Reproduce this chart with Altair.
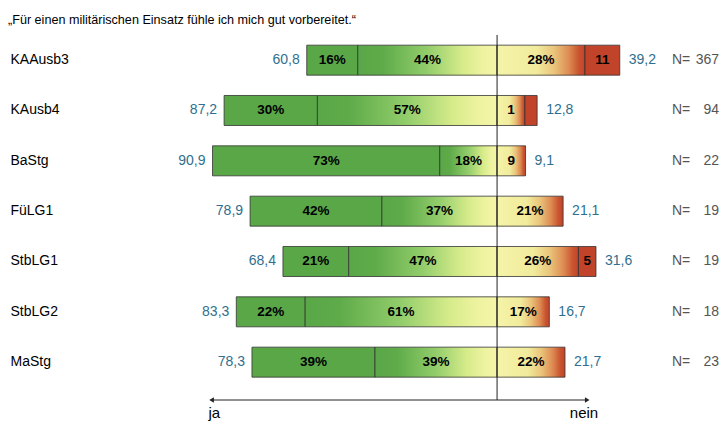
import altair as alt
import pandas as pd

# ---------------- data ----------------
groups = ["KAAusb3", "KAusb4", "BaStg", "FüLG1", "StbLG1", "StbLG2", "MaStg"]
ja_total = [60.8, 87.2, 90.9, 78.9, 68.4, 83.3, 78.3]
nein_total = [39.2, 12.8, 9.1, 21.1, 31.6, 16.7, 21.7]
ja_voll = [16.3, 29.8, 72.6, 42.1, 21.0, 22.0, 39.3]      # outer green segment
nein_eher = [28.1, 8.9, 9.1, 21.1, 26.0, 16.7, 21.7]      # first "nein" segment
n_sizes = [367, 94, 22, 19, 19, 18, 23]

ja_voll_lbl = ["16%", "30%", "73%", "42%", "21%", "22%", "39%"]
ja_eher_lbl = ["44%", "57%", "18%", "37%", "47%", "61%", "39%"]
nein_eher_lbl = ["28%", "1", "9", "21%", "26%", "17%", "22%"]
nein_voll_lbl = ["11", "", "", "", "5", "", ""]

title_text = "„Für einen militärischen Einsatz fühle ich mich gut vorbereitet.“"
arrow_ends = [-91.2, 28.8]
arrow_labels = ["ja", "nein"]

# ---------------- tables ----------------
rows = []
for i, g in enumerate(groups):
    a = -ja_total[i]
    b = -(ja_total[i] - ja_voll[i])
    rows.append(dict(group=g, seg="ja_voll", x=a, x2=b, label=ja_voll_lbl[i]))
    rows.append(dict(group=g, seg="ja_eher", x=b, x2=0.0, label=ja_eher_lbl[i]))
    rows.append(dict(group=g, seg="nein_eher", x=0.0, x2=nein_eher[i], label=nein_eher_lbl[i]))
    if nein_total[i] - nein_eher[i] > 0.05:
        rows.append(dict(group=g, seg="nein_voll", x=nein_eher[i], x2=nein_total[i], label=nein_voll_lbl[i]))
seg = pd.DataFrame(rows)
seg["mid"] = (seg["x"] + seg["x2"]) / 2

def de(v):
    return f"{v:.1f}".replace(".", ",")

summ = pd.DataFrame({
    "group": groups,
    "ja_neg": [-v for v in ja_total],
    "nein": nein_total,
    "ja_txt": [de(v) for v in ja_total],
    "nein_txt": [de(v) for v in nein_total],
    "n_txt": [str(n) for n in n_sizes],
    "n_lbl": ["N=" for _ in groups],
})

arrow = pd.DataFrame({"x": [arrow_ends[0]], "x2": [arrow_ends[1]]})
arrow_pts = pd.DataFrame({"x": arrow_ends, "shape": ["triangle-left", "triangle-right"]})
arrow_txt = pd.DataFrame({"x": [arrow_ends[0] - 1.0, arrow_ends[1] + 3.5],
                          "label": arrow_labels})
title_df = pd.DataFrame({"t": [title_text]})

# ---------------- styles ----------------
FONT = "Liberation Sans"
GREEN = "#5aa748"
RED = "#c1432a"
BLUE = "#2f6f8f"
GRAY = "#555555"
W, H = 519, 365

def grad(stops):
    return {"gradient": "linear", "x1": 0, "x2": 1, "y1": 0, "y2": 0,
            "stops": [{"offset": o, "color": c} for o, c in stops]}

green_yellow = grad([(0, "#5aa748"), (0.18, "#5fab4a"), (0.5, "#93cd6b"),
                     (0.75, "#d6eb8a"), (0.9, "#eef3a0"), (1, "#f5f5a8")])
yellow_red = grad([(0, "#f5f4a8"), (0.45, "#f1eb9c"), (0.65, "#eac47a"),
                   (0.82, "#dd8a52"), (0.93, "#c9542f"), (1, "#c1432a")])

xscale = alt.Scale(domain=[-94.9, 70.9], nice=False, zero=False)
yenc = alt.Y("group:N", sort=groups,
             scale=alt.Scale(paddingInner=0, paddingOuter=0.126, align=0),
             axis=alt.Axis(title=None, ticks=False, domain=False, labelAlign="left",
                           labelPadding=190, labelFont=FONT, labelFontSize=14,
                           labelColor="black", grid=False))

base = alt.Chart(seg)

def bars(name, fill):
    return base.transform_filter(alt.datum.seg == name).mark_bar(
        height=30, fill=fill, stroke="#333333", strokeWidth=0.8
    ).encode(x=alt.X("x:Q", scale=xscale, axis=None), x2="x2:Q", y=yenc)

bar_layers = [
    bars("ja_voll", GREEN),
    bars("ja_eher", green_yellow),
    bars("nein_eher", yellow_red),
    bars("nein_voll", RED),
]

seg_text = base.mark_text(font=FONT, fontSize=13.5, fontWeight="bold", color="black",
                          baseline="middle").encode(
    x=alt.X("mid:Q", scale=xscale, axis=None), y=yenc, text="label:N")

center = alt.Chart(pd.DataFrame({"x": [0.0]})).mark_rule(color="#222222", strokeWidth=1).encode(
    x=alt.X("x:Q", scale=xscale, axis=None))

sbase = alt.Chart(summ)
ja_lbl = sbase.mark_text(font=FONT, fontSize=14, color=BLUE, align="right", dx=-7,
                         baseline="middle").encode(
    x=alt.X("ja_neg:Q", scale=xscale, axis=None), y=yenc, text="ja_txt:N")
nein_lbl = sbase.mark_text(font=FONT, fontSize=14, color=BLUE, align="left", dx=9,
                           baseline="middle").encode(
    x=alt.X("nein:Q", scale=xscale, axis=None), y=yenc, text="nein_txt:N")
n_lbl = sbase.mark_text(font=FONT, fontSize=14, color=GRAY, align="left",
                        baseline="middle").encode(
    x=alt.value(472), y=yenc, text="n_lbl:N")
n_val = sbase.mark_text(font=FONT, fontSize=14, color=GRAY, align="right",
                        baseline="middle").encode(
    x=alt.value(519), y=yenc, text="n_txt:N")

arrow_line = alt.Chart(arrow).mark_rule(color="#222222", strokeWidth=1).encode(
    x=alt.X("x:Q", scale=xscale, axis=None), x2="x2:Q", y=alt.value(H))
arrow_heads = alt.Chart(arrow_pts).mark_point(filled=True, color="#222222", size=28, opacity=1).encode(
    x=alt.X("x:Q", scale=xscale, axis=None), y=alt.value(H),
    shape=alt.Shape("shape:N", scale=None, legend=None))
ja_txt_layer = alt.Chart(arrow_txt.iloc[[0]]).mark_text(
    font=FONT, fontSize=15, color="black", align="left", baseline="alphabetic").encode(
    x=alt.X("x:Q", scale=xscale, axis=None), y=alt.value(H + 18), text="label:N")
nein_txt_layer = alt.Chart(arrow_txt.iloc[[1]]).mark_text(
    font=FONT, fontSize=15, color="black", align="right", baseline="alphabetic").encode(
    x=alt.X("x:Q", scale=xscale, axis=None), y=alt.value(H + 18), text="label:N")

title_layer = alt.Chart(title_df).mark_text(
    font=FONT, fontSize=12.6, color="black", align="left", baseline="alphabetic").encode(
    x=alt.value(-192), y=alt.value(-11), text="t:N")

chart = alt.layer(
    *bar_layers, center, seg_text, ja_lbl, nein_lbl, n_lbl, n_val,
    arrow_line, arrow_heads, ja_txt_layer, nein_txt_layer, title_layer,
).properties(
    width=W, height=H,
    autosize=alt.AutoSizeParams(type="none"),
    padding={"left": 192, "top": 27, "right": 0, "bottom": 22},
    background="white",
).configure_view(stroke=None)

chart.save("out.html", embed_options={"renderer": "svg", "actions": False})
